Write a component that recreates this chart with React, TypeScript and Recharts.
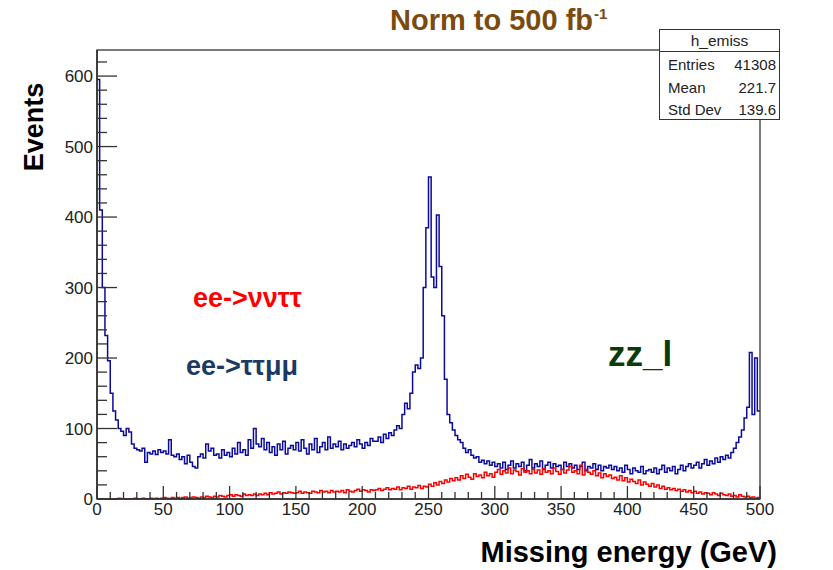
import React from "react";
import { LineChart, Line, XAxis, YAxis } from "recharts";

// ---- data (2 GeV bins, low edges 0..498) ----
const BIN_WIDTH = 2;
const blueEvents: number[] = [
  595, 410, 300, 232, 196, 150, 125, 112, 100, 96, 90, 100, 95, 78, 72,
  70, 68, 72, 52, 66, 64, 68, 63, 70, 66, 68, 64, 84, 62, 60,
  64, 56, 60, 50, 62, 52, 46, 44, 60, 64, 58, 78, 68, 72, 62,
  64, 58, 70, 62, 66, 60, 72, 64, 80, 66, 70, 62, 84, 72, 100,
  78, 74, 86, 70, 80, 66, 74, 62, 78, 70, 82, 64, 72, 76, 70,
  80, 68, 84, 72, 64, 78, 70, 86, 66, 74, 80, 70, 88, 72, 78,
  74, 82, 70, 78, 72, 76, 80, 74, 84, 78, 72, 80, 76, 86, 82,
  82, 88, 80, 92, 86, 94, 90, 98, 104, 100, 120, 136, 128, 150, 180,
  190, 185, 200, 300, 385, 457, 315, 300, 403, 330, 260, 170, 120, 108, 98,
  90, 84, 80, 72, 66, 70, 62, 58, 60, 52, 55, 50, 54, 48, 52,
  46, 50, 44, 52, 42, 48, 54, 44, 50, 46, 52, 40, 48, 56, 44,
  50, 46, 54, 42, 48, 52, 44, 50, 46, 48, 42, 52, 46, 50, 44,
  48, 42, 46, 52, 40, 46, 44, 50, 42, 48, 40, 46, 44, 48, 42,
  46, 40, 44, 38, 48, 42, 36, 44, 40, 38, 46, 36, 40, 42, 38,
  44, 36, 42, 48, 38, 44, 40, 46, 36, 42, 48, 40, 46, 50, 44,
  48, 52, 44, 50, 56, 48, 54, 50, 58, 52, 60, 56, 62, 58, 66,
  72, 80, 88, 98, 115, 130, 208, 120, 200, 125,
];
const redEvents: number[] = [
  0, 0, 0, 0, 0, 0, 0, 0, 1, 0, 0, 0, 0, 0, 1,
  0, 0, 1, 0, 0, 1, 0, 1, 0, 1, 2, 1, 0, 2, 1,
  2, 1, 2, 3, 1, 2, 3, 2, 1, 3, 2, 4, 3, 2, 4,
  3, 5, 4, 3, 5, 6, 4, 6, 5, 4, 7, 5, 6, 5, 7,
  5, 7, 6, 8, 6, 9, 7, 8, 10, 7, 9, 8, 10, 9, 8,
  9, 11, 8, 10, 9, 8, 11, 10, 9, 12, 10, 11, 9, 12, 10,
  11, 10, 12, 9, 13, 11, 10, 12, 14, 11, 13, 12, 10, 13, 12,
  13, 15, 12, 14, 16, 13, 15, 14, 17, 13, 16, 15, 18, 14, 17,
  16, 19, 15, 18, 17, 21, 18, 23, 20, 25, 22, 27, 24, 29, 26,
  30, 27, 33, 29, 35, 31, 28, 36, 32, 34, 30, 38, 33, 36, 31,
  38, 42, 35, 40, 37, 44, 36, 41, 39, 34, 43, 38, 40, 36, 42,
  37, 41, 35, 43, 38, 40, 36, 44, 39, 35, 42, 37, 41, 46, 38,
  40, 36, 48, 34, 42, 38, 35, 40, 33, 37, 30, 36, 32, 34, 29,
  31, 27, 33, 26, 30, 24, 28, 25, 22, 27, 20, 24, 21, 18, 22,
  17, 20, 15, 18, 14, 16, 13, 15, 12, 14, 11, 13, 10, 12, 9,
  11, 8, 10, 7, 9, 8, 6, 9, 7, 5, 8, 6, 5, 7, 4,
  5, 3, 6, 4, 3, 4, 2, 3, 1, 2,
];
const xTicks: number[] = Array.from({ length: 51 }, (_, i) => i * 10);
const xLabelTicks: number[] = [0, 50, 100, 150, 200, 250, 300, 350, 400, 450, 500];
const yTicks: number[] = Array.from({ length: 32 }, (_, i) => i * 20);
const yLabelTicks: number[] = [0, 100, 200, 300, 400, 500, 600];
const X_MAX = 500;
const Y_MAX = 637;

const statsRows: [string, string][] = [
  ["Entries", "41308"],
  ["Mean", "221.7"],
  ["Std Dev", "139.6"],
];

// ---- layout ----
const W = 833;
const H = 570;
const M = { top: 50, right: 73, bottom: 71, left: 97 };
const PLOT_L = M.left;
const PLOT_T = M.top;
const PLOT_W = W - M.left - M.right;
const PLOT_H = H - M.top - M.bottom;
const FONT = "'Liberation Sans', Arial, Helvetica, sans-serif";

const rows = blueEvents.map((b, i) => ({ x: i * BIN_WIDTH, blue: b, red: redEvents[i] }));
rows.push({
  x: X_MAX,
  blue: blueEvents[blueEvents.length - 1],
  red: redEvents[redEvents.length - 1],
});

const XTick = (props: any) => {
  const { x, y, payload } = props;
  const major = xLabelTicks.includes(payload.value);
  return (
    <g>
      <line x1={x} x2={x} y1={y} y2={y - (major ? 13 : 7)} stroke="#333" strokeWidth={1.3} />
      {major && (
        <text x={x} y={y + 16} textAnchor="middle" fontSize={17} fontFamily={FONT} fill="#222">
          {payload.value}
        </text>
      )}
    </g>
  );
};

const YTick = (props: any) => {
  const { x, y, payload } = props;
  const major = yLabelTicks.includes(payload.value);
  return (
    <g>
      <line x1={x} x2={x + (major ? 20 : 10)} y1={y} y2={y} stroke="#333" strokeWidth={1.3} />
      {major && (
        <text x={x - 4} y={y + 6} textAnchor="end" fontSize={17} fontFamily={FONT} fill="#222">
          {payload.value}
        </text>
      )}
    </g>
  );
};

export default function App() {
  const boxX = 659.5;
  const boxY = 29.5;
  const boxW = 120;
  const boxH = 90;
  return (
    <div style={{ position: "absolute", left: 0, top: 0, width: W, height: H, background: "#fff" }}>
      <LineChart
        width={W}
        height={H}
        data={rows}
        margin={{ top: M.top, right: M.right, bottom: 0, left: 0 }}
      >
        <XAxis
          type="number"
          dataKey="x"
          domain={[0, X_MAX]}
          ticks={xTicks}
          interval={0}
          height={M.bottom}
          tickSize={0}
          tickMargin={0}
          tickLine={false}
          tick={<XTick />}
          axisLine={{ stroke: "#222", strokeWidth: 1.5 }}
          allowDataOverflow
        />
        <YAxis
          type="number"
          domain={[0, Y_MAX]}
          ticks={yTicks}
          interval={0}
          width={M.left}
          tickSize={0}
          tickMargin={0}
          tickLine={false}
          tick={<YTick />}
          axisLine={{ stroke: "#222", strokeWidth: 1.5 }}
          allowDataOverflow
        />
        <Line
          type="stepAfter"
          dataKey="blue"
          stroke="#0a0a9c"
          strokeWidth={1.5}
          dot={false}
          activeDot={false}
          isAnimationActive={false}
        />
        <Line
          type="stepAfter"
          dataKey="red"
          stroke="#ff0000"
          strokeWidth={1.5}
          dot={false}
          activeDot={false}
          isAnimationActive={false}
        />
      </LineChart>
      <svg
        width={W}
        height={H}
        style={{ position: "absolute", left: 0, top: 0, pointerEvents: "none" }}
      >
        <rect x={PLOT_L} y={PLOT_T} width={PLOT_W} height={PLOT_H} fill="none" stroke="#333" strokeWidth={1.3} />
        <text x={390} y={30} fontSize={29} fontWeight="bold" fontFamily={FONT} fill="#7a4b0c">
          Norm to 500 fb
          <tspan dx={1} dy={-11} fontSize={15}>-1</tspan>
        </text>
        <text
          transform="translate(43,127) rotate(-90)"
          textAnchor="middle"
          fontSize={27}
          fontWeight="bold"
          fontFamily={FONT}
          fill="#000"
        >
          Events
        </text>
        <text x={777} y={562} textAnchor="end" fontSize={29} fontWeight="bold" fontFamily={FONT} fill="#000">
          Missing energy (GeV)
        </text>
        <text x={193} y={307} fontSize={27} fontWeight="bold" fontFamily={FONT} fill="#ff0000">
          ee-&gt;ννττ
        </text>
        <text x={186} y={375} fontSize={27} fontWeight="bold" fontFamily={FONT} fill="#1b3a63">
          ee-&gt;ττμμ
        </text>
        <text x={608} y={366} fontSize={35} fontWeight="bold" fontFamily={FONT} fill="#0b3a0b">
          zz_l
        </text>
        <rect x={boxX} y={boxY} width={boxW} height={boxH} fill="#fff" stroke="#333" strokeWidth={1} />
        <line x1={boxX} x2={boxX + boxW} y1={51.5} y2={51.5} stroke="#333" strokeWidth={1} />
        <text x={boxX + boxW / 2} y={46} textAnchor="middle" fontSize={15.5} fontFamily={FONT} fill="#222">
          h_emiss
        </text>
        {statsRows.map(([k, v], i) => (
          <g key={k}>
            <text x={668} y={70 + i * 22.5} fontSize={15} fontFamily={FONT} fill="#222">
              {k}
            </text>
            <text x={776} y={70 + i * 22.5} textAnchor="end" fontSize={15} fontFamily={FONT} fill="#222">
              {v}
            </text>
          </g>
        ))}
      </svg>
    </div>
  );
}
